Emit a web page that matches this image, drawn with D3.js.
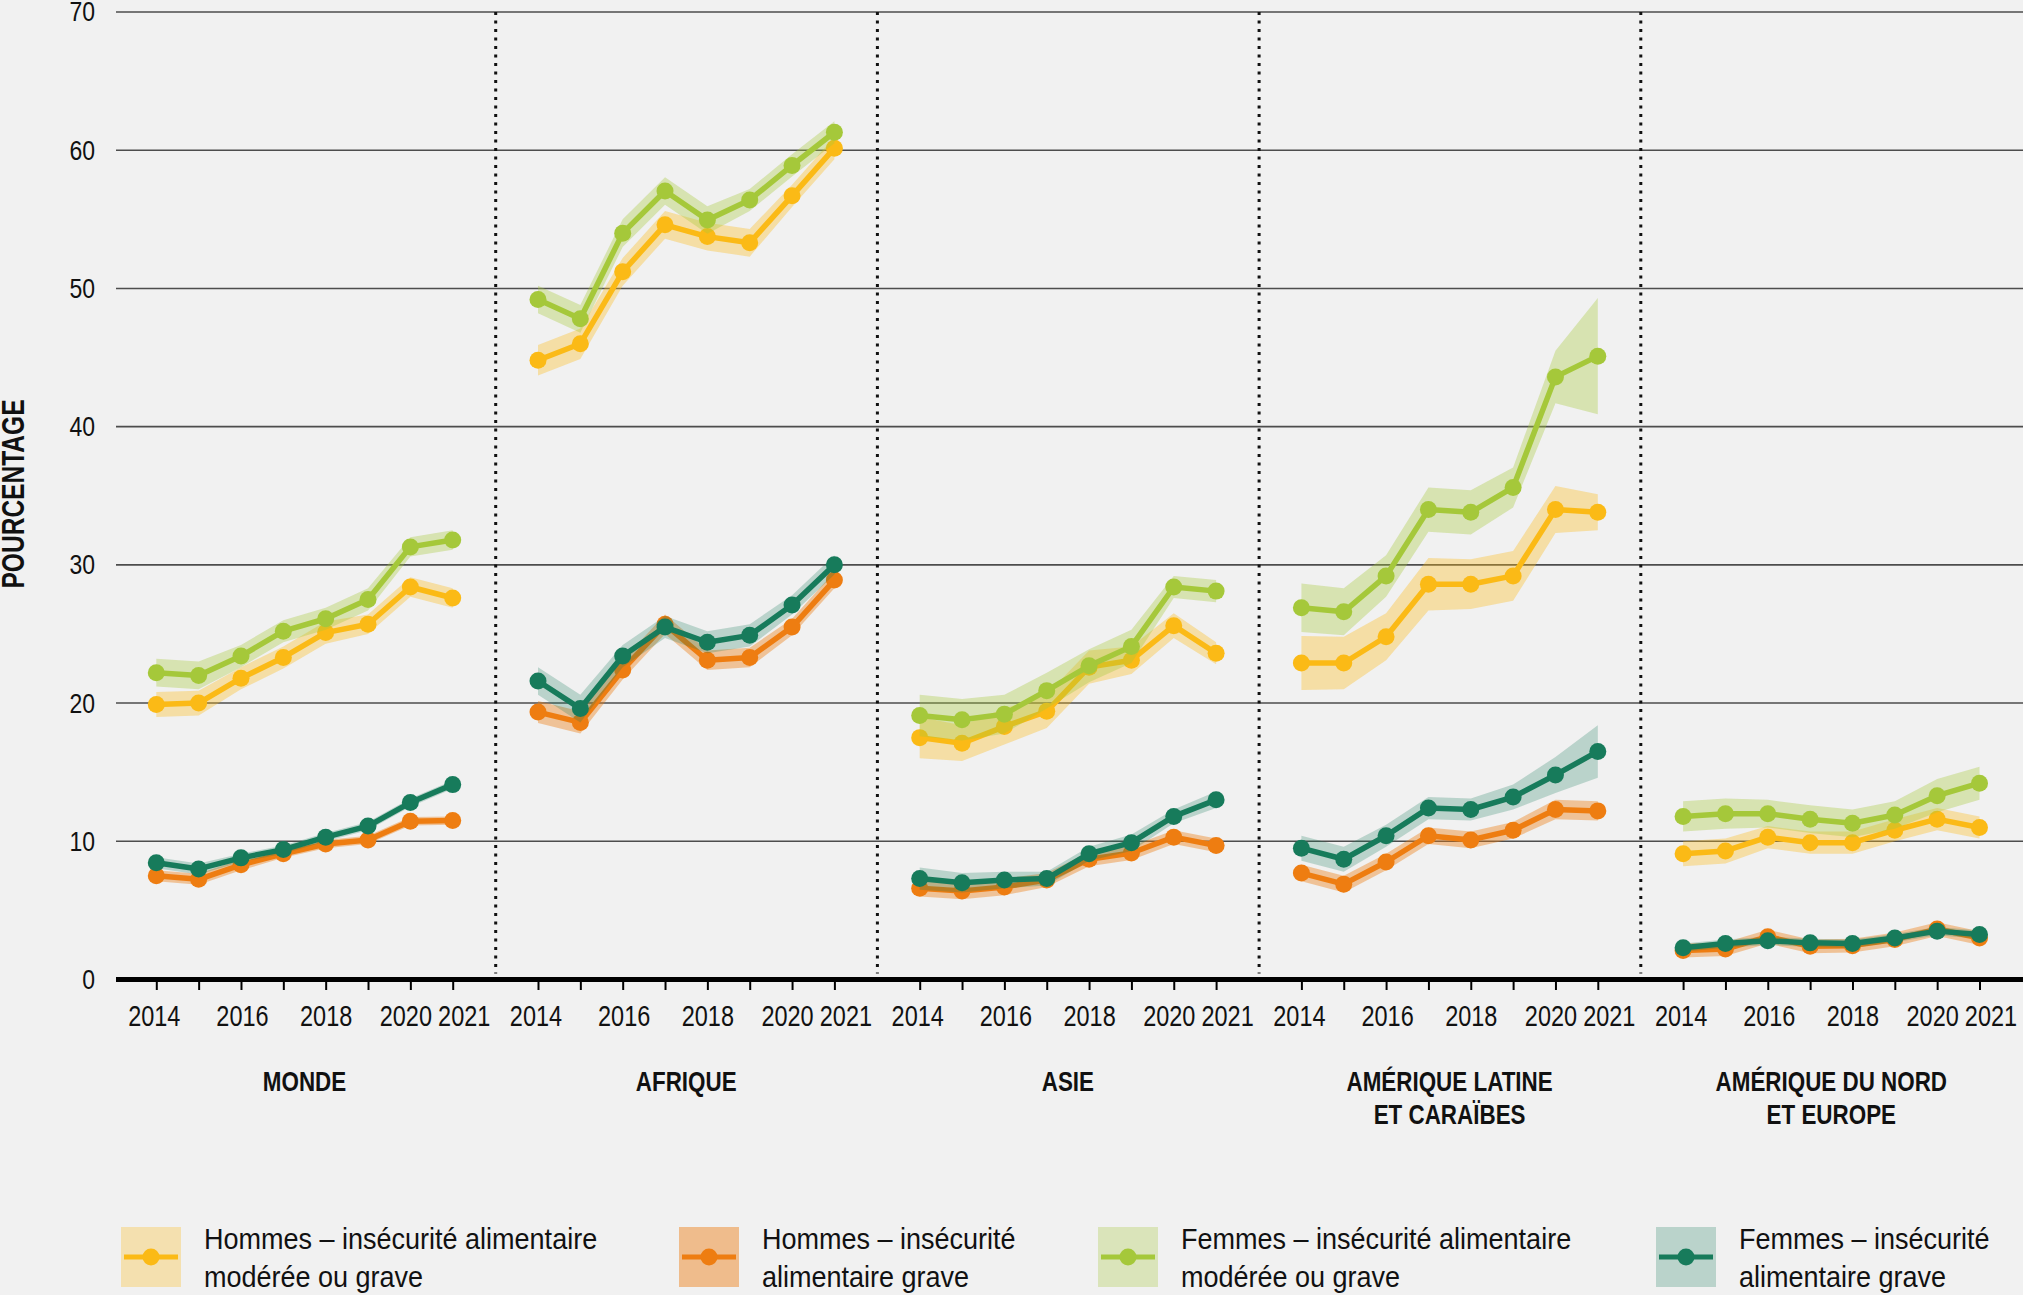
<!DOCTYPE html>
<html>
<head>
<meta charset="utf-8">
<script src="https://cdn.jsdelivr.net/npm/d3@7"></script>
<style>
  html, body { margin: 0; padding: 0; background: #f1f1f1; }
  svg { display: block; }
</style>
</head>
<body>
<script>
// ---------- DATA ----------
const years = [2014, 2015, 2016, 2017, 2018, 2019, 2020, 2021];
const yearLabels = ["2014", "", "2016", "", "2018", "", "2020", "2021"];
const yTicks = [0, 10, 20, 30, 40, 50, 60, 70];
const regions = [
  ["MONDE"],
  ["AFRIQUE"],
  ["ASIE"],
  ["AMÉRIQUE LATINE", "ET CARAÏBES"],
  ["AMÉRIQUE DU NORD", "ET EUROPE"]
];
const seriesNames = [
  ["Hommes – insécurité alimentaire", "modérée ou grave"],
  ["Hommes – insécurité", "alimentaire grave"],
  ["Femmes – insécurité alimentaire", "modérée ou grave"],
  ["Femmes – insécurité", "alimentaire grave"]
];
// values per region (Monde, Afrique, Asie, Am. latine, Am. du Nord & Europe)
const hommesModere = [
  [19.9, 20.0, 21.8, 23.3, 25.1, 25.7, 28.4, 27.6],
  [44.8, 46.0, 51.2, 54.6, 53.75, 53.3, 56.7, 60.15],
  [17.5, 17.1, 18.3, 19.4, 22.6, 23.1, 25.6, 23.6],
  [22.9, 22.9, 24.8, 28.6, 28.6, 29.2, 34.0, 33.8],
  [9.1, 9.3, 10.3, 9.9, 9.9, 10.8, 11.6, 11.0]
];
const hommesModereMarge = [
  [0.9, 0.9, 0.8, 0.8, 0.8, 0.7, 0.7, 0.7],
  [1.1, 1.1, 1.0, 1.0, 1.0, 1.0, 0.8, 0.8],
  [1.5, 1.3, 1.3, 1.2, 1.2, 1.0, 0.9, 0.8],
  [1.95, 1.9, 1.7, 1.9, 1.8, 1.8, 1.7, 1.3],
  [0.9, 0.9, 0.8, 0.8, 0.8, 0.8, 0.8, 0.8]
];
const hommesGrave = [
  [7.5, 7.25, 8.3, 9.1, 9.8, 10.1, 11.45, 11.5],
  [19.35, 18.6, 22.4, 25.7, 23.1, 23.3, 25.5, 28.9],
  [6.6, 6.4, 6.7, 7.2, 8.7, 9.15, 10.3, 9.7],
  [7.7, 6.9, 8.5, 10.4, 10.1, 10.8, 12.3, 12.2],
  [2.1, 2.2, 3.1, 2.4, 2.45, 2.9, 3.65, 3.0]
];
const hommesGraveMarge = [
  [0.4, 0.4, 0.4, 0.3, 0.3, 0.3, 0.3, 0.3],
  [0.8, 0.8, 0.7, 0.7, 0.7, 0.7, 0.6, 0.6],
  [0.6, 0.6, 0.6, 0.5, 0.5, 0.5, 0.5, 0.5],
  [0.6, 0.6, 0.6, 0.6, 0.6, 0.6, 0.7, 0.7],
  [0.5, 0.5, 0.5, 0.5, 0.5, 0.5, 0.5, 0.5]
];
const femmesModere = [
  [22.2, 22.0, 23.4, 25.2, 26.1, 27.5, 31.3, 31.8],
  [49.2, 47.8, 54.0, 57.05, 54.95, 56.4, 58.9, 61.3],
  [19.1, 18.8, 19.2, 20.9, 22.7, 24.1, 28.4, 28.1],
  [26.9, 26.6, 29.2, 34.0, 33.8, 35.6, 43.6, 45.1],
  [11.8, 12.0, 12.0, 11.6, 11.3, 11.9, 13.3, 14.2]
];
const femmesModereMarge = [
  [1.0, 1.0, 0.8, 0.8, 0.8, 0.8, 0.7, 0.7],
  [1.0, 1.0, 1.0, 1.0, 1.0, 0.8, 0.8, 0.8],
  [1.5, 1.5, 1.4, 1.3, 1.2, 1.2, 0.8, 0.8],
  [1.75, 1.7, 1.5, 1.6, 1.6, 1.45, 1.9, 4.2],
  [1.1, 1.1, 1.0, 1.0, 1.0, 1.0, 1.2, 1.2]
];
const femmesGrave = [
  [8.45, 8.0, 8.8, 9.4, 10.3, 11.1, 12.8, 14.1],
  [21.6, 19.6, 23.4, 25.5, 24.4, 24.9, 27.1, 30.0],
  [7.3, 7.0, 7.2, 7.3, 9.1, 9.9, 11.8, 13.0],
  [9.5, 8.7, 10.4, 12.4, 12.3, 13.2, 14.8, 16.5],
  [2.3, 2.6, 2.8, 2.65, 2.6, 3.0, 3.5, 3.25]
];
const femmesGraveMarge = [
  [0.4, 0.4, 0.3, 0.3, 0.3, 0.3, 0.3, 0.3],
  [1.0, 1.0, 0.8, 0.8, 0.8, 0.8, 0.7, 0.7],
  [0.8, 0.7, 0.6, 0.5, 0.5, 0.6, 0.5, 0.6],
  [0.9, 0.9, 0.8, 0.8, 0.8, 0.9, 1.3, 1.9],
  [0.3, 0.3, 0.3, 0.3, 0.3, 0.3, 0.3, 0.3]
];

// ---------- STYLE / LAYOUT ----------
const W = 2023, H = 1295;
const FONT = "'Liberation Sans', Arial, sans-serif";
const colors = ["#FBBA16", "#EE7D11", "#A5C83A", "#177B5B"];
const bandOpacity = [0.35, 0.4, 0.35, 0.25];
const swatchOpacity = [0.3, 0.45, 0.3, 0.25];
const seriesValues = [hommesModere, hommesGrave, femmesModere, femmesGrave];
const seriesMarges = [hommesModereMarge, hommesGraveMarge, femmesModereMarge, femmesGraveMarge];

const panel0 = 114, panelW = 381.7, padL = 42.3, padR = 43;
const axisY = 979.5;

// compress text horizontally to emulate a condensed face
function narrow(sel, f) {
  sel.each(function () {
    const w = this.getComputedTextLength();
    if (w > 0) d3.select(this).attr("textLength", w * f).attr("lengthAdjust", "spacingAndGlyphs");
  });
}

const svg = d3.select("body").append("svg").attr("width", W).attr("height", H);
svg.append("rect").attr("width", W).attr("height", H).attr("fill", "#f1f1f1");

const y = d3.scaleLinear().domain([0, 70]).range([axisY, 12]);

// gridlines
svg.append("g").selectAll("line").data(yTicks.filter(d => d > 0)).join("line")
  .attr("x1", 116).attr("x2", W)
  .attr("y1", d => y(d)).attr("y2", d => y(d))
  .attr("stroke", "#4d4d4d").attr("stroke-width", 1.6);

// y axis labels
const yAxis = svg.append("g").attr("transform", "translate(95,0)")
  .call(d3.axisLeft(y).tickValues(yTicks).tickSize(0).tickPadding(0));
yAxis.select(".domain").remove();
yAxis.selectAll("text").attr("font-family", FONT).attr("font-size", 28).attr("fill", "#111")
  .call(narrow, 0.82);

// y title
svg.append("text")
  .attr("transform", "translate(13,494) rotate(-90)")
  .attr("text-anchor", "middle").attr("dominant-baseline", "central")
  .attr("font-family", FONT).attr("font-weight", "bold").attr("font-size", 32)
  .attr("textLength", 189).attr("lengthAdjust", "spacingAndGlyphs")
  .attr("fill", "#111").text("POURCENTAGE");

// separators
svg.append("g").selectAll("line").data([1, 2, 3, 4]).join("line")
  .attr("x1", k => panel0 + k * panelW).attr("x2", k => panel0 + k * panelW)
  .attr("y1", y(70)).attr("y2", axisY - 6)
  .attr("stroke", "#111").attr("stroke-width", 3).attr("stroke-dasharray", "3,5.5");

// x-axis baseline
svg.append("line").attr("x1", 116).attr("x2", W).attr("y1", axisY).attr("y2", axisY)
  .attr("stroke", "#000").attr("stroke-width", 5);

const labelDx = {2014: -2.5, 2016: 1, 2018: 0, 2020: -5, 2021: 11};

regions.forEach((reg, k) => {
  const left = panel0 + k * panelW;
  const x = d3.scaleLinear().domain([2014, 2021]).range([left + padL, left + panelW - padR]);

  // axis
  const gx = svg.append("g").attr("transform", `translate(0,${axisY + 2.5})`)
    .call(d3.axisBottom(x).tickValues(years).tickSize(8).tickSizeOuter(0).tickPadding(15)
      .tickFormat((d, i) => yearLabels[i]));
  gx.select(".domain").remove();
  gx.selectAll(".tick line").attr("stroke", "#000").attr("stroke-width", 2);
  gx.selectAll(".tick text").attr("font-family", FONT).attr("font-size", 29).attr("fill", "#111")
    .attr("dx", d => labelDx[d] || 0)
    .call(narrow, 0.81);

  // title
  const cx = (x(2014) + x(2021)) / 2;
  reg.forEach((line, i) => {
    svg.append("text").attr("text-anchor", "middle")
      .attr("x", cx).attr("y", 1091 + i * 32.5)
      .attr("font-family", FONT).attr("font-weight", "bold").attr("font-size", 28).attr("fill", "#111")
      .text(line)
      .call(narrow, 0.8);
  });

  // series
  seriesValues.forEach((vals, s) => {
    const v = vals[k], m = seriesMarges[s][k];
    const pts = years.map((yr, i) => ({yr, v: v[i], m: m[i]}));
    const g = svg.append("g");
    g.append("path").datum(pts)
      .attr("d", d3.area().x(d => x(d.yr)).y0(d => y(d.v - d.m)).y1(d => y(d.v + d.m)))
      .attr("fill", colors[s]).attr("fill-opacity", bandOpacity[s]);
    g.append("path").datum(pts)
      .attr("d", d3.line().x(d => x(d.yr)).y(d => y(d.v)))
      .attr("fill", "none").attr("stroke", colors[s]).attr("stroke-width", 5.5)
      .attr("stroke-linejoin", "round");
    g.selectAll("circle").data(pts).join("circle")
      .attr("cx", d => x(d.yr)).attr("cy", d => y(d.v)).attr("r", 8.5)
      .attr("fill", colors[s]);
  });
});

// legend
const legendX = [121, 679, 1098, 1656];
seriesNames.forEach((name, s) => {
  const g = svg.append("g").attr("transform", `translate(${legendX[s]},1227)`);
  g.append("rect").attr("width", 60).attr("height", 60)
    .attr("fill", colors[s]).attr("fill-opacity", swatchOpacity[s]);
  g.append("line").attr("x1", 3).attr("x2", 57).attr("y1", 30).attr("y2", 30)
    .attr("stroke", colors[s]).attr("stroke-width", 5);
  g.append("circle").attr("cx", 30).attr("cy", 30).attr("r", 8.5).attr("fill", colors[s]);
  name.forEach((line, i) => {
    g.append("text").attr("x", 83).attr("y", 22.3 + i * 37.8)
      .attr("font-family", FONT).attr("font-size", 30).attr("fill", "#111")
      .text(line)
      .call(narrow, 0.9);
  });
});
</script>
</body>
</html>
